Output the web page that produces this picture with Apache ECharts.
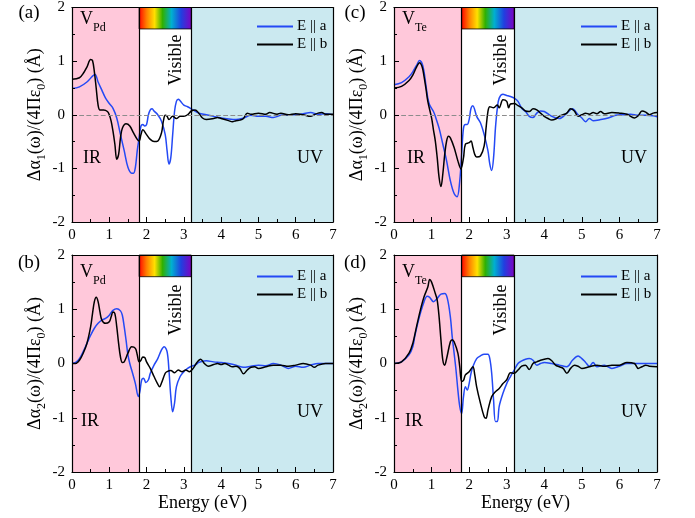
<!DOCTYPE html>
<html><head><meta charset="utf-8">
<script src="https://cdn.jsdelivr.net/npm/echarts@6/dist/echarts.min.js"></script>
<style>html,body{margin:0;padding:0;background:#fff}#c{width:695px;height:518px}</style>
</head><body><div id="c"></div>
<script>
// ---- data (energy eV, value Å) ----
const panelA_Ea = [[0,0.49],[0.2,0.52],[0.4,0.61],[0.55,0.72],[0.62,0.75],[0.7,0.61],[0.8,0.46],[0.9,0.31],[1.0,0.21],[1.1,0.12],[1.2,-0.06],[1.3,-0.37],[1.4,-0.67],[1.5,-0.98],[1.6,-1.09],[1.65,-1.09],[1.7,-0.98],[1.75,-0.67],[1.8,-0.43],[1.85,-0.21],[1.9,-0.18],[1.95,-0.21],[2.0,-0.18],[2.05,0],[2.1,0.09],[2.15,0.11],[2.2,0.07],[2.3,0],[2.4,-0.12],[2.5,-0.37],[2.55,-0.67],[2.6,-0.92],[2.65,-0.8],[2.7,-0.37],[2.75,0.06],[2.8,0.25],[2.85,0.29],[2.9,0.26],[3.0,0.18],[3.1,0.15],[3.2,0.11],[3.4,0.03],[3.6,0],[3.8,-0.03],[4.0,-0.06],[4.2,-0.08],[4.4,-0.09],[4.6,-0.06],[4.8,-0.01],[5.0,-0.03],[5.2,-0.03],[5.4,-0.05],[5.6,-0.01],[5.8,0],[6.0,0],[6.2,0.02],[6.4,0.04],[6.6,0.01],[6.8,0.02],[7.0,0]];
const panelA_Eb = [[0,0.66],[0.2,0.69],[0.3,0.77],[0.4,0.89],[0.5,1.03],[0.55,1.01],[0.6,0.8],[0.65,0.49],[0.7,0.18],[0.75,0.09],[0.85,0.09],[0.95,0.06],[1.0,0],[1.05,-0.12],[1.1,-0.31],[1.15,-0.55],[1.2,-0.83],[1.25,-0.74],[1.3,-0.43],[1.35,-0.25],[1.45,-0.17],[1.55,-0.21],[1.65,-0.34],[1.75,-0.46],[1.8,-0.49],[1.85,-0.37],[1.9,-0.28],[2.0,-0.37],[2.1,-0.46],[2.2,-0.5],[2.3,-0.49],[2.4,-0.34],[2.45,-0.12],[2.5,-0.01],[2.55,-0.03],[2.6,-0.09],[2.7,-0.03],[2.8,-0.07],[2.9,-0.03],[3.0,-0.03],[3.1,0],[3.2,0.07],[3.3,0.09],[3.4,0.03],[3.5,-0.06],[3.6,-0.09],[3.8,-0.07],[3.9,-0.05],[4.0,-0.07],[4.2,-0.11],[4.3,-0.13],[4.4,-0.11],[4.5,-0.1],[4.6,-0.07],[4.7,0.03],[4.8,0.01],[5.0,0.03],[5.2,0.01],[5.3,0.04],[5.5,0.01],[5.6,0.03],[5.8,0],[6.0,0.02],[6.2,0],[6.4,-0.03],[6.5,0],[6.6,0.03],[6.7,0.04],[6.8,0.01],[7.0,0.01]];
const panelB_Ea = [[0,0],[0.1,0.02],[0.2,0.09],[0.3,0.22],[0.4,0.37],[0.5,0.52],[0.6,0.65],[0.7,0.74],[0.8,0.8],[0.9,0.83],[1.0,0.89],[1.1,0.98],[1.2,1.01],[1.3,0.97],[1.35,0.89],[1.4,0.68],[1.45,0.43],[1.5,0.16],[1.55,0],[1.6,-0.12],[1.7,-0.37],[1.78,-0.61],[1.82,-0.52],[1.87,-0.3],[1.92,-0.27],[1.98,-0.35],[2.05,-0.3],[2.1,-0.18],[2.2,-0.03],[2.3,0.09],[2.4,0.25],[2.47,0.31],[2.55,0.22],[2.6,-0.12],[2.65,-0.61],[2.7,-0.89],[2.75,-0.73],[2.8,-0.43],[2.9,-0.24],[3.0,-0.15],[3.1,-0.09],[3.2,-0.05],[3.3,-0.03],[3.4,0.02],[3.6,0.05],[3.8,0.03],[4.0,0.02],[4.2,0],[4.4,-0.03],[4.6,-0.07],[4.8,-0.05],[5.0,-0.03],[5.2,-0.04],[5.4,0],[5.6,-0.03],[5.8,-0.09],[6.0,-0.05],[6.2,-0.07],[6.4,-0.03],[6.6,0],[6.8,0],[7.0,0]];
const panelB_Eb = [[0,0],[0.1,0],[0.2,0.06],[0.3,0.19],[0.4,0.37],[0.5,0.68],[0.55,0.92],[0.6,1.14],[0.65,1.22],[0.7,1.14],[0.75,0.95],[0.8,0.8],[0.9,0.74],[1.0,0.77],[1.05,0.86],[1.1,0.95],[1.15,0.92],[1.2,0.68],[1.25,0.37],[1.3,0.12],[1.35,0.02],[1.4,0.03],[1.5,0.19],[1.6,0.31],[1.7,0.28],[1.75,0.16],[1.8,0.03],[1.85,0.06],[1.9,0.12],[1.95,0.11],[2.0,0.03],[2.1,-0.09],[2.2,-0.24],[2.3,-0.38],[2.35,-0.43],[2.4,-0.36],[2.5,-0.18],[2.55,-0.15],[2.65,-0.13],[2.75,-0.17],[2.85,-0.12],[2.95,-0.15],[3.05,-0.12],[3.15,-0.15],[3.25,-0.09],[3.35,0.02],[3.45,0.08],[3.55,0],[3.65,-0.05],[3.8,-0.02],[3.9,0],[4.0,-0.02],[4.1,0],[4.2,-0.03],[4.3,-0.06],[4.4,-0.05],[4.5,-0.09],[4.6,-0.19],[4.7,-0.12],[4.8,-0.07],[4.9,-0.06],[5.0,-0.09],[5.2,-0.06],[5.4,-0.03],[5.6,-0.03],[5.8,-0.05],[6.0,-0.03],[6.2,0],[6.4,-0.03],[6.5,-0.07],[6.6,-0.03],[6.8,0],[7.0,0]];
const panelC_Ea = [[0,0.56],[0.2,0.6],[0.4,0.71],[0.5,0.8],[0.6,0.92],[0.68,1.01],[0.75,0.95],[0.8,0.8],[0.85,0.55],[0.9,0.31],[0.95,0.18],[1.0,0.12],[1.05,0.06],[1.1,-0.03],[1.2,-0.25],[1.3,-0.55],[1.4,-0.86],[1.5,-1.23],[1.6,-1.47],[1.68,-1.53],[1.75,-1.23],[1.8,-0.74],[1.85,-0.25],[1.9,-0.18],[1.95,-0.18],[2.0,-0.09],[2.05,0.12],[2.1,0.17],[2.15,0.09],[2.2,-0.03],[2.3,-0.15],[2.4,-0.37],[2.5,-0.67],[2.55,-0.92],[2.6,-1.04],[2.65,-0.8],[2.7,-0.25],[2.75,0.12],[2.8,0.31],[2.9,0.38],[3.0,0.36],[3.1,0.34],[3.2,0.31],[3.3,0.25],[3.4,0.12],[3.5,0.06],[3.6,-0.03],[3.7,-0.05],[3.8,0.03],[3.9,0.07],[4.0,0.06],[4.2,-0.03],[4.4,-0.07],[4.6,0.03],[4.75,0.11],[4.9,0],[5.0,-0.06],[5.1,-0.13],[5.2,-0.07],[5.3,-0.11],[5.5,-0.09],[5.7,-0.06],[5.9,-0.01],[6.1,0],[6.3,0.01],[6.5,-0.01],[6.7,-0.01],[6.9,-0.02],[7.0,-0.04]];
const panelC_Eb = [[0,0.5],[0.2,0.53],[0.4,0.64],[0.5,0.74],[0.6,0.89],[0.68,0.97],[0.75,0.89],[0.8,0.71],[0.85,0.49],[0.9,0.25],[1.0,-0.06],[1.05,-0.28],[1.1,-0.49],[1.15,-0.8],[1.2,-1.17],[1.25,-1.34],[1.3,-1.1],[1.35,-0.74],[1.4,-0.49],[1.45,-0.4],[1.5,-0.43],[1.6,-0.61],[1.7,-0.86],[1.78,-1.01],[1.85,-0.8],[1.9,-0.55],[2.0,-0.52],[2.05,-0.49],[2.1,-0.61],[2.15,-0.74],[2.2,-0.79],[2.3,-0.77],[2.4,-0.58],[2.45,-0.25],[2.5,0.06],[2.55,0.15],[2.65,0.13],[2.75,0.18],[2.8,0.13],[2.9,0.28],[3.0,0.25],[3.05,0.13],[3.1,0.2],[3.2,0.21],[3.3,0.17],[3.4,0.13],[3.5,0.07],[3.6,0.06],[3.7,0.11],[3.8,0.09],[3.9,0.03],[4.0,-0.03],[4.1,-0.07],[4.2,-0.1],[4.3,-0.08],[4.4,-0.03],[4.5,0],[4.6,0.03],[4.7,0.11],[4.8,0.07],[4.9,-0.03],[5.0,0],[5.1,0.03],[5.2,0.01],[5.3,0.04],[5.4,0.02],[5.5,0.06],[5.6,0.02],[5.8,0.04],[6.0,0.03],[6.2,0.01],[6.4,-0.06],[6.5,-0.02],[6.6,0.07],[6.7,0.05],[6.8,0],[6.9,0.03],[7.0,0.04]];
const panelD_Ea = [[0,0],[0.2,0.03],[0.4,0.16],[0.5,0.31],[0.55,0.49],[0.6,0.65],[0.7,0.92],[0.8,1.14],[0.88,1.24],[0.95,1.22],[1.05,1.14],[1.15,1.2],[1.25,1.28],[1.35,1.29],[1.42,1.2],[1.5,0.86],[1.55,0.49],[1.6,0.19],[1.65,-0.12],[1.7,-0.49],[1.75,-0.79],[1.8,-0.92],[1.85,-0.61],[1.9,-0.43],[1.95,-0.49],[2.0,-0.37],[2.05,-0.18],[2.1,-0.06],[2.2,0.09],[2.3,0.14],[2.4,0.17],[2.5,0.17],[2.55,0.09],[2.6,-0.18],[2.65,-0.67],[2.7,-1.07],[2.75,-1.07],[2.8,-0.79],[2.9,-0.55],[3.0,-0.37],[3.1,-0.24],[3.2,-0.12],[3.3,0],[3.4,0.05],[3.5,0.08],[3.6,0.09],[3.7,0.06],[3.8,-0.03],[3.9,0],[4.0,0.02],[4.2,0],[4.4,-0.03],[4.6,-0.06],[4.75,0.06],[4.9,0.14],[5.0,0.09],[5.1,0.02],[5.2,-0.05],[5.3,0.02],[5.4,-0.06],[5.6,-0.03],[5.8,-0.09],[6.0,-0.05],[6.2,0],[6.4,0],[6.6,0],[6.8,0],[7.0,0]];
const panelD_Eb = [[0,0],[0.2,0.03],[0.4,0.19],[0.5,0.37],[0.6,0.68],[0.7,0.98],[0.8,1.23],[0.9,1.41],[0.95,1.55],[1.0,1.5],[1.1,1.29],[1.15,1.17],[1.2,0.86],[1.25,0.43],[1.3,0.06],[1.35,-0.03],[1.4,0.09],[1.5,0.4],[1.55,0.44],[1.6,0.4],[1.7,0.19],[1.75,-0.06],[1.8,-0.33],[1.85,-0.31],[1.9,-0.21],[2.0,-0.15],[2.1,-0.06],[2.15,-0.21],[2.2,-0.43],[2.3,-0.73],[2.4,-0.98],[2.45,-1.01],[2.5,-0.86],[2.6,-0.61],[2.7,-0.52],[2.8,-0.46],[2.9,-0.37],[3.0,-0.3],[3.1,-0.17],[3.2,-0.18],[3.3,-0.12],[3.4,-0.05],[3.5,-0.03],[3.6,-0.11],[3.7,0],[3.8,0.03],[3.9,0.06],[4.0,0.08],[4.1,0.09],[4.2,0.05],[4.3,-0.03],[4.4,-0.06],[4.5,-0.09],[4.6,-0.18],[4.7,-0.09],[4.8,-0.03],[4.9,-0.05],[5.0,-0.09],[5.2,-0.06],[5.4,-0.03],[5.6,-0.05],[5.8,-0.03],[6.0,-0.03],[6.2,0.02],[6.4,0],[6.5,-0.09],[6.6,-0.06],[6.7,-0.03],[6.8,-0.05],[7.0,-0.06]];

const panelLetters = ['(a)','(b)','(c)','(d)'];
const defectNames = ['Pd','Pd','Te','Te'];
const seriesNames = ['E || a','E || b'];
const regionEdges = [0, 1.8, 3.2, 7];   // IR | Visible | UV boundaries (eV)
const xTicks = [0,7,1];   // min, max, step
const yTicks = [-2,2,1];

// ---- layout ----
const FONT = 'Liberation Serif';
const grids = [
  {left:72, top:5, width:261, height:217},
  {left:72, top:255, width:261, height:217},
  {left:394, top:5, width:263, height:217},
  {left:394, top:255, width:263, height:217}
];
const panelData = [[panelA_Ea,panelA_Eb],[panelB_Ea,panelB_Eb],[panelC_Ea,panelC_Eb],[panelD_Ea,panelD_Eb]];
const isAlpha1 = [true,false,true,false];
const isBottom = [false,true,false,true];
const BLUE = '#2449f5';
const rainbow = {type:'linear',x:0,y:0,x2:1,y2:0,colorStops:[
  {offset:0,color:'#ff0000'},{offset:0.15,color:'#ff8000'},{offset:0.3,color:'#ffe000'},
  {offset:0.45,color:'#30b000'},{offset:0.62,color:'#00b0d0'},{offset:0.8,color:'#2040e0'},{offset:1,color:'#8000c0'}]};

const xAxes=[], yAxes=[], series=[], legends=[], graphics=[];
const tickStyle = {color:'#000', fontFamily:FONT, fontSize:15};
grids.forEach((g,i)=>{
  xAxes.push({gridIndex:i, type:'value', min:xTicks[0], max:xTicks[1], interval:xTicks[2], z:10,
    axisLine:{show:true, onZero:false, lineStyle:{color:'#000', width:1.2}},
    axisTick:{inside:true, length:5, lineStyle:{color:'#000'}},
    minorTick:{show:true, splitNumber:2, length:3, lineStyle:{color:'#000'}},
    splitLine:{show:false}, axisLabel:{...tickStyle, margin:6},
    name: isBottom[i] ? 'Energy (eV)' : '', nameLocation:'middle', nameGap:17,
    nameTextStyle:{color:'#000', fontFamily:FONT, fontSize:18}});
  xAxes.push({gridIndex:i, type:'value', position:'top', min:xTicks[0], max:xTicks[1], z:10,
    axisLine:{show:true, onZero:false, lineStyle:{color:'#000', width:1.2}},
    axisTick:{show:false}, axisLabel:{show:false}, splitLine:{show:false}});
  const sub = isAlpha1[i] ? '1' : '2';
  yAxes.push({gridIndex:i, type:'value', min:yTicks[0], max:yTicks[1], interval:yTicks[2], z:10,
    axisLine:{show:true, onZero:false, lineStyle:{color:'#000', width:1.2}},
    axisTick:{inside:true, length:5, lineStyle:{color:'#000'}},
    minorTick:{show:true, splitNumber:2, length:3, lineStyle:{color:'#000'}},
    splitLine:{show:false}, axisLabel:{...tickStyle, margin:7},
    name:'{n|Δα}{s|'+sub+'}{n|(ω)/(4Πε}{s|0}{n|) (Å)}', nameLocation:'middle', nameGap:24, nameRotate:90,
    nameTextStyle:{color:'#000', fontFamily:FONT, fontSize:18, rich:{
      n:{fontFamily:FONT, fontSize:18, color:'#000', verticalAlign:'bottom', padding:[0,0,4,0]},
      s:{fontFamily:FONT, fontSize:12, color:'#000', verticalAlign:'bottom'}}}});
  yAxes.push({gridIndex:i, type:'value', position:'right', min:yTicks[0], max:yTicks[1], z:10,
    axisLine:{show:true, onZero:false, lineStyle:{color:'#000', width:1.2}},
    axisTick:{show:false}, axisLabel:{show:false}, splitLine:{show:false}});
  const xi = i*2, yi = i*2;
  // background regions
  series.push({type:'line', xAxisIndex:xi, yAxisIndex:yi, data:[], z:1, silent:true, symbol:'none',
    markArea:{silent:true, data:[
      [{xAxis:regionEdges[0], itemStyle:{color:'#ffc8da'}},{xAxis:regionEdges[1]}],
      [{xAxis:regionEdges[2], itemStyle:{color:'#cbe9f0'}},{xAxis:regionEdges[3]}],
      [{xAxis:regionEdges[1], yAxis:1.6, itemStyle:{color:rainbow, borderColor:'#000', borderWidth:0.8}},{xAxis:regionEdges[2], yAxis:2}]
    ]}});
  const ml = [{xAxis:regionEdges[1]},{xAxis:regionEdges[2]}];
  if (isAlpha1[i]) ml.push({yAxis:0, lineStyle:{type:'dashed', color:'#8c8c8c', width:1.2}});
  series.push({type:'line', xAxisIndex:xi, yAxisIndex:yi, data:[], z:2, silent:true, symbol:'none',
    markLine:{silent:true, symbol:['none','none'], label:{show:false}, animation:false,
      lineStyle:{type:'solid', color:'#000', width:1.2}, data:ml}});
  panelData[i].forEach((d,k)=>{
    series.push({type:'line', name:seriesNames[k], xAxisIndex:xi, yAxisIndex:yi, data:d, z:3+k,
      symbol:'none', smooth:0.35, color: k===0?BLUE:'#000', lineStyle:{width:1.5, color:k===0?BLUE:'#000'}});
  });
  legends.push({left:g.left+g.width-81, top:g.top+9, orient:'vertical', itemGap:3, itemWidth:36, itemHeight:2,
    icon:'rect', data:seriesNames, selectedMode:false,
    textStyle:{fontFamily:FONT, fontSize:15, color:'#000', padding:[0,0,0,-1]}});
  // annotations
  const L = g.left, T = g.top;
  const Z = 100;
  graphics.push({type:'text', z:Z, x: (i<2? 29 : 355), y: T+8, style:{text:panelLetters[i], fontFamily:FONT, fontSize:19, fill:'#000', align:'center', verticalAlign:'middle'}});
  graphics.push({type:'text', z:Z, x: L+8, y: T+ (isBottom[i]?20:17), style:{text:'{v|V}{s|'+defectNames[i]+'}', fill:'#000', align:'left', verticalAlign:'middle',
    rich:{v:{fontFamily:FONT, fontSize:18, fill:'#000', verticalAlign:'bottom', padding:[0,0,5,0]}, s:{fontFamily:FONT, fontSize:12, fill:'#000', verticalAlign:'bottom'}}}});
  graphics.push({type:'text', z:Z, x: L+ (i<2?11:13)+ (isBottom[i]?-2:0), y: T+ (isBottom[i]?166:153), style:{text:'IR', fontFamily:FONT, fontSize:18, fill:'#000', align:'left', verticalAlign:'middle'}});
  graphics.push({type:'text', z:Z, x: L+g.width-10, y: T+ (isBottom[i]?157:153), style:{text:'UV', fontFamily:FONT, fontSize:18, fill:'#000', align:'right', verticalAlign:'middle'}});
  graphics.push({type:'text', z:Z, x: L + g.width*(i<2?104:106)/261, y: T+55, rotation:Math.PI/2, style:{text:'Visible', fontFamily:FONT, fontSize:18, fill:'#000', align:'center', verticalAlign:'middle'}});
});

const chart = echarts.init(document.getElementById('c'), null, {renderer:'canvas'});
chart.setOption({
  animation:false, backgroundColor:'#fff',
  grid: grids.map(g=>({...g, containLabel:false})),
  xAxis:xAxes, yAxis:yAxes, series, legend:legends, graphic:graphics
});
</script></body></html>
